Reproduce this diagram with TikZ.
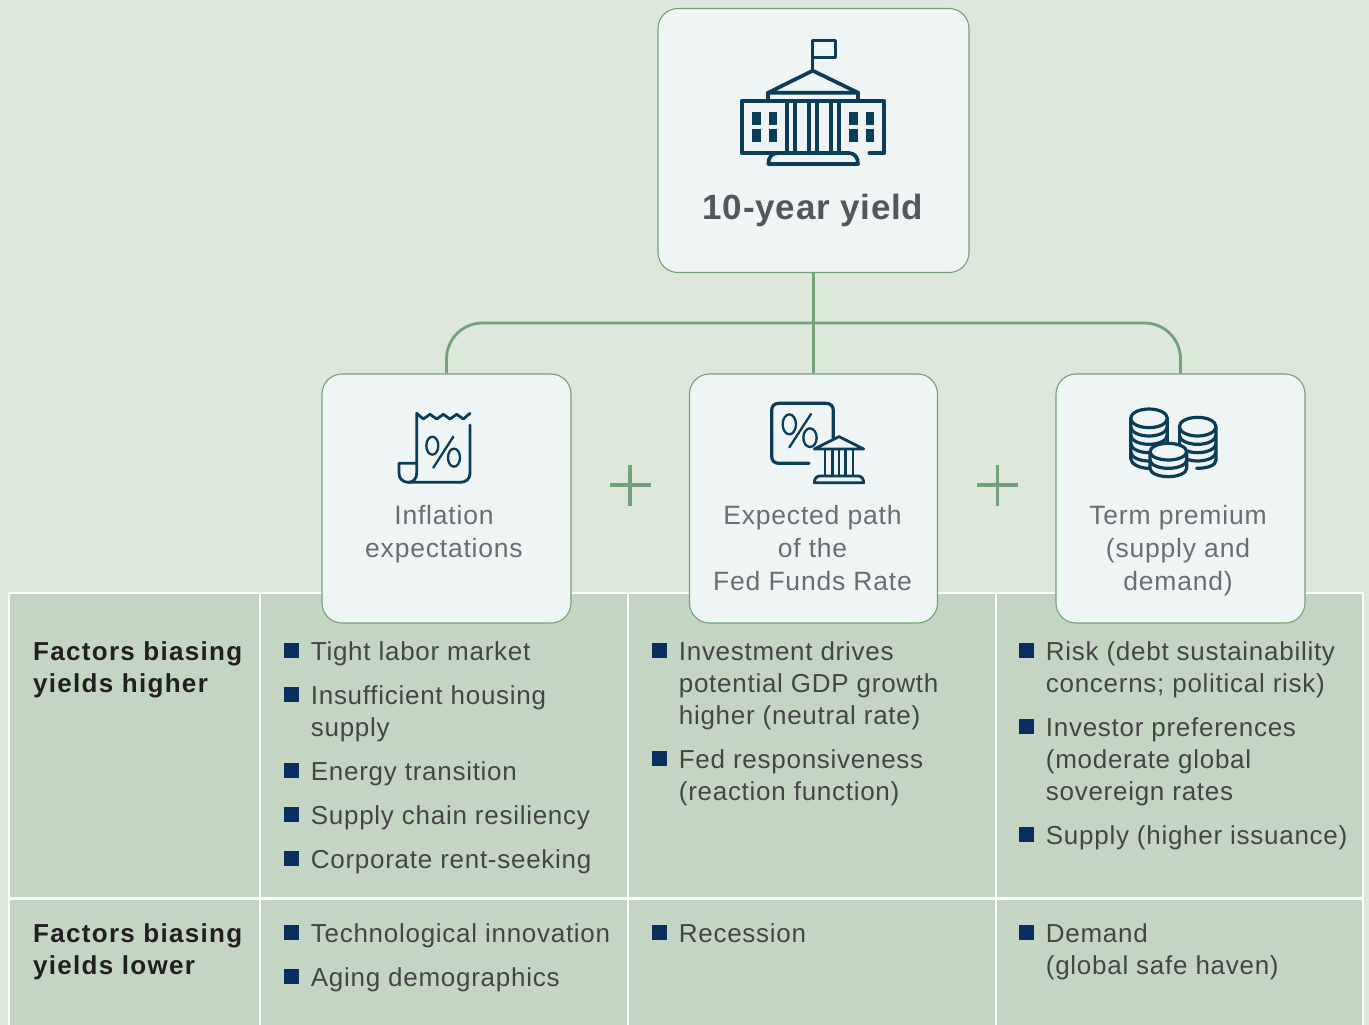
\documentclass[tikz,border=0pt]{standalone}
\usepackage{fontspec}
\setmainfont{Liberation Sans}
\newfontfamily\listfont[LetterSpace=2.8]{Liberation Sans}
\newfontfamily\headfont[LetterSpace=5]{Liberation Sans Bold}
\newfontfamily\titlefont[LetterSpace=2.2]{Liberation Sans Bold}
\newfontfamily\labelfont[LetterSpace=3]{Liberation Sans}
\definecolor{pagebg}{HTML}{DDE7DC}
\definecolor{tablebg}{HTML}{C4D6C3}
\definecolor{boxbg}{HTML}{EFF5F5}
\definecolor{boxline}{HTML}{76A078}
\definecolor{iconc}{HTML}{0B3D58}
\definecolor{bulc}{HTML}{0A2F5E}
\definecolor{listc}{HTML}{454547}
\definecolor{labelc}{HTML}{6C6D70}
\definecolor{titlec}{HTML}{55565A}
\definecolor{headc}{HTML}{231F20}
\tikzset{
  card/.style={draw=boxline,fill=boxbg,line width=1.1pt,rounded corners=20pt,inner sep=0pt},
  conn/.style={draw=boxline,line width=2.8pt},
  plussign/.style={draw=boxline,line width=3.8pt},
  gridline/.style={draw=white,line width=2.2pt},
  listtext/.style={anchor=north west,inner sep=0pt,align=left,text=listc,font=\listfont\fontsize{26}{32}\selectfont},
  headtext/.style={anchor=north west,inner sep=0pt,align=left,text=headc,font=\headfont\fontsize{26}{32}\selectfont},
  cardtext/.style={anchor=north,inner sep=0pt,align=center,text=labelc,font=\labelfont\fontsize{26.5}{33}\selectfont},
  titletext/.style={anchor=north,inner sep=0pt,text=titlec,font=\titlefont\fontsize{35}{40}\selectfont},
  icon/.style={draw=iconc,line width=3.2pt,line join=round,line cap=round},
  iconheavy/.style={draw=iconc,line width=3.7pt,line join=round,line cap=round},
  iconthin/.style={draw=iconc,line width=2.3pt,line join=round,line cap=round},
  bullet/.style={fill=bulc,draw=none},
  zoomed/.style={x=0.33333pt,y=-0.33333pt},
}
\newcommand{\firstline}{\rule{0pt}{24pt}}
\newcommand{\bul}[4]{%
  \fill[bullet] (#2-27,#3-17.5) rectangle ++(15,15);
  \node[listtext] (#1) at (#2-0.3,#3-24) {\firstline #4};}
\begin{document}
\begin{tikzpicture}[x=1pt,y=-1pt]
\useasboundingbox (0,0) rectangle (1369,1025);
\fill[pagebg] (0,0) rectangle (1369,1025);
% table
\fill[tablebg] (9,593) rectangle (1363,1025);
\draw[gridline] (9,1026) -- (9,593) -- (1363,593) -- (1363,1026);
\draw[gridline] (9,898.5) -- (1363,898.5);
\draw[gridline] (260,593) -- (260,1026);
\draw[gridline] (628,593) -- (628,1026);
\draw[gridline] (996,593) -- (996,1026);
% cards
\node[card,minimum width=311pt,minimum height=264pt] (top) at (813.5,140.5) {};
\node[card,minimum width=249pt,minimum height=249pt] (c1) at (446.5,498.5) {};
\node[card,minimum width=248pt,minimum height=249pt] (c2) at (813.5,498.5) {};
\node[card,minimum width=249pt,minimum height=249pt] (c3) at (1180.5,498.5) {};
% connectors
\coordinate (hub) at (813.5,323);
\draw[conn] (top.south) -- (c2.north);
\draw[conn,rounded corners=36pt] (c1.north) |- (hub) -| (c3.north);
% plus signs
\coordinate (p1) at (630,485);
\coordinate (p2) at (997.5,485);
\draw[plussign] ([xshift=-20.5pt]p1) -- ([xshift=20.5pt]p1) ([yshift=-20.5pt]p1) -- ([yshift=20.5pt]p1);
\draw[plussign] ([xshift=-20.5pt]p2) -- ([xshift=20.5pt]p2) ([yshift=-20.5pt]p2) -- ([yshift=20.5pt]p2);
% card text
\node[titletext] (t0) at (813,219-30) {\rule{0pt}{30pt}10-year yield};
\node[cardtext] (t1) at (444,524-24) {\firstline Inflation\\expectations};
\node[cardtext] (t2) at (812.5,524-24) {\firstline Expected path\\of the\\Fed Funds Rate};
\node[cardtext] (t3) at (1178,524-24) {\firstline Term premium\\(supply and\\demand)};
% row heads
\node[headtext] (h1) at (33,660-24) {\firstline Factors biasing\\yields higher};
\node[headtext] (h2) at (33,942-24) {\firstline Factors biasing\\yields lower};
% lists
\bul{a1}{311}{660}{Tight labor market}
\bul{a2}{311}{704}{Insufficient housing\\supply}
\bul{a3}{311}{780}{Energy transition}
\bul{a4}{311}{824}{Supply chain resiliency}
\bul{a5}{311}{868}{Corporate rent-seeking}
\bul{a6}{311}{942}{Technological innovation}
\bul{a7}{311}{986}{Aging demographics}
\bul{b1}{679}{660}{Investment drives\\potential GDP growth\\higher (neutral rate)}
\bul{b2}{679}{768}{Fed responsiveness\\(reaction function)}
\bul{b3}{679}{942}{Recession}
\bul{d1}{1046}{660}{Risk (debt sustainability\\concerns; political risk)}
\bul{d2}{1046}{736}{Investor preferences\\(moderate global\\sovereign rates}
\bul{d3}{1046}{844}{Supply (higher issuance)}
\bul{d4}{1046}{942}{Demand\\(global safe haven)}
% icon: capitol
\begin{scope}[shift={(720,20)},zoomed]
\draw[icon] (278,150) -- (278,62) -- (346,62) -- (346,113) -- (278,113);
\draw[iconheavy] (145,218) -- (278,152) -- (414,218) -- cycle;
\draw[iconheavy] (145,218) -- (145,243) (414,218) -- (414,243);
\draw[iconheavy] (145,243) -- (65,243) -- (65,399) -- (385,399) (414,243) -- (493,243) -- (493,399) -- (448,399);
\draw[iconheavy] (145,243) -- (414,243);
\foreach \cx in {200,226,267,291,332,357}{\draw[iconheavy,line cap=butt] (\cx,243) -- (\cx,399);}
\foreach \wx in {96,146,387,437}{
  \foreach \wy in {277,327}{\fill[iconc] (\wx,\wy) rectangle ++(26,38);}}
\draw[iconheavy] (175,399) .. controls (155,399) and (145,412) .. (145,432) -- (414,432) .. controls (414,412) and (404,399) .. (385,399);
\end{scope}
% icon: receipt
\begin{scope}[shift={(380,395)},zoomed]
\draw[iconthin,line width=2.8pt] (270,90) -- (270,235) .. controls (270,252) and (258,262) .. (240,262) -- (85,262) .. controls (68,262) and (57,250) .. (57,235) -- (57,205) -- (110,205);
\draw[iconthin,line width=2.8pt] (85,262) .. controls (100,262) and (110,250) .. (110,235) -- (110,55) -- (130,72) -- (150,58) -- (170,72) -- (190,58) -- (210,72) -- (230,58) -- (250,72) -- (270,55);
\draw[iconthin] (157,152) circle[x radius=18,y radius=27];
\draw[iconthin] (222,188) circle[x radius=18,y radius=27];
\draw[iconthin] (220,125) -- (160,218);
\end{scope}
% icon: percent with bank
\begin{scope}[shift={(755,390)},zoomed]
\draw[icon] (162,220) -- (72,220) .. controls (58,220) and (50,212) .. (50,198) -- (50,62) .. controls (50,48) and (58,40) .. (72,40) -- (213,40) .. controls (227,40) and (235,48) .. (235,62) -- (235,145);
\draw[iconthin] (103,103) circle[x radius=20,y radius=30];
\draw[iconthin] (165,143) circle[x radius=20,y radius=28];
\draw[iconthin] (168,72) -- (103,172);
\draw[iconthin,fill=boxbg,line width=2.8pt] (178,177) -- (252,140) -- (326,177) -- cycle;
\foreach \cx in {210,232,252,272,294}{\draw[iconthin,line width=2.6pt,line cap=butt] (\cx,177) -- (\cx,258);}
\draw[iconthin,line width=2.8pt] (178,278) .. controls (178,266) and (185,258) .. (195,258) -- (309,258) .. controls (319,258) and (326,266) .. (326,278) -- cycle;
\end{scope}
% icon: coins
\begin{scope}[shift={(1115,395)},zoomed]
\draw[icon,fill=boxbg] (47,70) -- (47,190) .. controls (47,206) and (72,220) .. (102,220) .. controls (132,220) and (157,206) .. (157,190) -- (157,70);
\draw[icon,fill=boxbg] (102,70) circle[x radius=55,y radius=28];
\foreach \dy in {25,50,75,100}{
  \draw[icon] (47,70+\dy) .. controls (47,86+\dy) and (72,98+\dy) .. (102,98+\dy) .. controls (132,98+\dy) and (157,86+\dy) .. (157,70+\dy);}
\draw[icon] (193,95) -- (193,170);
\draw[icon] (303,95) -- (303,195) .. controls (303,210) and (280,220) .. (245,220);
\draw[icon,fill=boxbg] (248,95) circle[x radius=55,y radius=28];
\foreach \dy in {25,50,75}{
  \draw[icon] (193,95+\dy) .. controls (193,111+\dy) and (218,123+\dy) .. (248,123+\dy) .. controls (278,123+\dy) and (303,111+\dy) .. (303,95+\dy);}
\fill[boxbg] (105,170) -- (105,220) .. controls (105,234) and (130,245) .. (160,245) .. controls (190,245) and (215,234) .. (215,220) -- (215,170) -- cycle;
\draw[icon] (105,170) -- (105,220) .. controls (105,234) and (130,245) .. (160,245) .. controls (190,245) and (215,234) .. (215,220) -- (215,170);
\draw[icon,fill=boxbg] (160,170) circle[x radius=55,y radius=25];
\draw[icon] (105,195) .. controls (105,209) and (130,220) .. (160,220) .. controls (190,220) and (215,209) .. (215,195);
\end{scope}
\end{tikzpicture}
\end{document}
